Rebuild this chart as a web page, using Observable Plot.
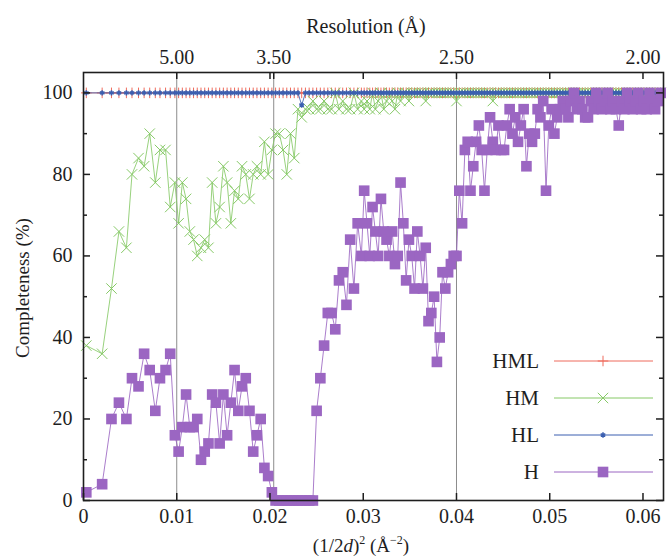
<!DOCTYPE html>
<html><head><meta charset="utf-8">
<script src="https://cdn.jsdelivr.net/npm/d3@7"></script>
<script src="https://cdn.jsdelivr.net/npm/@observablehq/plot@0.6"></script>
<style>body{margin:0;background:#fff}#chart{width:667px;height:557px}</style>
</head><body><div id="chart"></div>
<script>
// bin centres, (1/2d)^2 in Å^-2
const binX = [
0.0003,0.002,0.003,0.0038,0.0046,0.0052,0.0059,0.0065,0.0071,0.0077,0.0082,0.0088,0.0093,0.0098,
0.0102,0.0106,0.011,0.0114,0.0118,0.0122,0.0126,0.013,0.0134,0.0138,0.0142,0.0146,0.015,0.0154,0.0158,0.0162,0.0166,0.017,0.0174,0.0178,0.0182,0.0186,0.019,0.0194,0.0198,
0.0202,0.0206,0.021,0.0214,0.0218,0.0222,0.0226,0.023,0.0234,0.0238,0.0242,0.0246,0.025,0.0254,0.0258,0.0262,0.0266,0.027,0.0274,0.0278,0.0282,0.0286,0.029,0.0294,0.0298,
0.0301,0.0304,0.0307,0.031,0.0313,0.0316,0.0319,0.0322,0.0325,0.0328,
0.0331,0.0334,0.0337,0.034,0.0343,0.0346,0.0349,0.0352,0.0355,0.0358,
0.0361,0.0364,0.0367,0.037,0.0373,0.0376,0.0379,0.0382,0.0385,0.0388,
0.0391,0.0394,0.0397,0.04,0.0403,0.0406,0.0409,0.0412,0.0415,0.0418,
0.0421,0.0424,0.0427,0.043,0.0433,0.0436,0.0439,0.0442,0.0445,0.0448,
0.0451,0.0454,0.0457,0.046,0.0463,0.0466,0.0469,0.0472,0.0475,0.0478,
0.0481,0.0484,0.0487,0.049,0.0493,0.0496,0.0499,0.0502,0.0505,0.0508,
0.0511,0.0514,0.0517,0.052,0.0523,0.0526,0.0529,0.0532,0.0535,0.0538,
0.0541,0.0544,0.0547,0.055,0.0553,0.0556,0.0559,0.0562,0.0565,0.0568,
0.0571,0.0574,0.0577,0.058,0.0583,0.0586,0.0589,0.0592,0.0595,0.0598,
0.0601,0.0604,0.0607,0.061,0.0613,0.0616,0.0619];

const HML = [
100,100,100,100,100,100,100,100,100,100,100,100,100,100,
100,100,100,100,100,100,100,100,100,100,100,100,100,100,100,100,100,100,100,100,100,100,100,100,100,
100,100,100,100,100,100,100,100,100,100,100,100,100,100,100,100,100,100,100,100,100,100,100,100,100,
100,100,100,100,100,100,100,100,100,100,
100,100,100,100,100,100,100,100,100,100,
100,100,100,100,100,100,100,100,100,100,
100,100,100,100,100,100,100,100,100,100,
100,100,100,100,100,100,100,100,100,100,
100,100,100,100,100,100,100,100,100,100,
100,100,100,100,100,100,100,100,100,100,
100,100,100,100,100,100,100,100,100,100,
100,100,100,100,100,100,100,100,100,100,
100,100,100,100,100,100,100,100,100,100,
100,100,100,100,100,100,100];

const HM = [
38,36,52,66,62,80,84,82,90,78,86,86,72,78,
68,78,74,66,64,60,62,64,62,78,68,72,82,78,68,76,74,82,80,74,80,82,80,88,80,
86,90,90,86,80,90,84,96,94,96,96,98,96,96,98,96,96,100,96,98,96,96,100,96,98,
96,98,96,100,96,98,100,96,98,100,
98,96,100,98,100,100,98,100,100,100,
100,100,98,100,100,100,100,100,100,100,
100,100,100,98,100,100,100,100,100,100,
100,100,100,100,100,100,98,100,100,100,
100,100,100,100,100,100,100,100,100,100,
100,100,100,100,100,100,100,100,100,100,
100,100,100,100,100,100,100,100,100,100,
100,100,100,100,100,100,100,100,100,100,
100,100,100,100,100,100,100,100,100,100,
100,100,100,100,100,100,100];

const HL = [
100,100,100,100,100,100,100,100,100,100,100,100,100,100,
100,100,100,100,100,100,100,100,100,100,100,100,100,100,100,100,100,100,100,100,100,100,100,100,100,
100,100,100,100,100,100,100,100,97,100,100,100,100,100,100,100,100,100,100,100,100,100,100,100,100,
100,100,100,100,100,100,100,100,100,100,
100,100,100,100,100,100,100,100,100,100,
100,100,100,100,100,100,100,100,100,100,
100,100,100,100,100,100,100,100,100,100,
100,100,100,100,100,100,100,100,100,100,
100,100,100,100,100,100,100,100,100,100,
100,100,100,100,100,100,100,100,100,100,
100,100,100,100,100,100,100,100,100,100,
100,100,100,100,100,100,100,100,100,100,
100,100,100,100,100,100,100,100,100,100,
100,100,100,100,100,100,100];

const H = [
2,4,20,24,20,30,28,36,32,22,30,32,36,16,
12,18,26,18,18,20,10,12,14,26,24,14,26,16,24,32,22,28,30,22,12,16,20,8,6,
2,0,0,0,0,0,0,0,0,0,0,0,22,30,38,46,46,42,54,56,48,64,52,68,60,
76,68,60,72,66,60,74,66,64,60,
66,58,60,78,68,54,64,60,52,66,
60,52,62,44,46,50,34,40,56,52,
56,58,60,60,76,68,86,88,76,82,
88,92,86,76,86,94,88,86,92,86,
86,92,96,90,94,88,92,96,82,90,
88,90,96,94,98,76,92,96,90,94,
96,98,96,94,98,100,96,98,96,94,
94,98,96,100,98,96,98,100,96,98,
96,92,98,96,100,98,96,98,100,96,
98,96,100,98,96,98,100];

const seriesNames = ["HML", "HM", "HL", "H"];
const seriesValues = [HML, HM, HL, H];
const bottomTicks = [0, 0.01, 0.02, 0.03, 0.04, 0.05, 0.06];
const topTickPos = [0.01, 0.0204, 0.04, 0.06];
const topTickLabels = ["5.00", "3.50", "2.50", "2.00"];
const guideLines = [0.01, 0.0204, 0.04];
const yTicks = [0, 20, 40, 60, 80, 100];
const yMinorTicks = [10, 30, 50, 70, 90];

// styles
const styles = {
  HML: {color: "#ee6b5c", symbol: "plus", r: 3.5, fill: "none", sw: 1},
  HM:  {color: "#86c966", symbol: "times", r: 4.8, fill: "none", sw: 1},
  HL:  {color: "#3b5fb0", symbol: "asterisk", r: 2.5, fill: "none", sw: 1.5},
  H:   {color: "#9b66c2", symbol: "square", r: 6, fill: "#9b66c2", sw: 0}
};

const W = 667, HT = 557, mt = 72, mb = 57, ml = 83, mr = 4;
const fw = W - ml - mr, fh = HT - mt - mb;
const font = "'Liberation Serif', 'Times New Roman', serif";
const ink = "#1e1e1e";

const seriesMarks = [];
seriesNames.forEach((name, k) => {
  const rows = binX.map((x, i) => ({x, y: seriesValues[k][i]}));
  const s = styles[name];
  seriesMarks.push(Plot.line(rows, {x: "x", y: "y", stroke: s.color, strokeWidth: 1, strokeOpacity: 0.85}));
  if (s.fill === "none") {
    seriesMarks.push(Plot.dot(rows, {x: "x", y: "y", symbol: s.symbol, r: s.r, stroke: s.color, strokeWidth: s.sw, fill: "none"}));
  } else {
    seriesMarks.push(Plot.dot(rows, {x: "x", y: "y", symbol: s.symbol, r: s.r, fill: s.fill, stroke: "none"}));
  }
});

const topLabelMap = new Map(topTickPos.map((p, i) => [p, topTickLabels[i]]));
const topAllTicks = [...bottomTicks.slice(1), 0.0204];

const chart = Plot.plot({
  width: W, height: HT,
  marginTop: mt, marginBottom: mb, marginLeft: ml, marginRight: mr,
  style: {fontFamily: font, fontSize: "20px", background: "#fff", color: ink},
  x: {domain: [0, 0.0622]},
  y: {domain: [0, 105]},
  marks: [
    Plot.ruleX(guideLines, {x: d => d, stroke: "#8c8c8c", strokeWidth: 1}),
    ...seriesMarks,
    Plot.tickX(bottomTicks, {x: d => d, insetTop: fh - 7, stroke: ink, strokeWidth: 1.5}),
    Plot.tickX(topAllTicks, {x: d => d, insetBottom: fh - 7, stroke: ink, strokeWidth: 1.5}),
    Plot.tickY(yTicks, {y: d => d, insetRight: fw - 7, stroke: ink, strokeWidth: 1.5}),
    Plot.tickY(yTicks, {y: d => d, insetLeft: fw - 7, stroke: ink, strokeWidth: 1.5}),
    Plot.tickY(yMinorTicks, {y: d => d, insetRight: fw - 4, stroke: ink, strokeWidth: 1.5}),
    Plot.tickY(yMinorTicks, {y: d => d, insetLeft: fw - 4, stroke: ink, strokeWidth: 1.5}),
    Plot.frame({stroke: ink, strokeWidth: 1.6}),
    Plot.axisX(bottomTicks, {anchor: "bottom", tickSize: 0, tickPadding: 8, label: null,
      tickFormat: d => d === 0 ? "0" : d.toFixed(2)}),
    Plot.axisX(topTickPos, {anchor: "top", tickSize: 0, tickPadding: 9, label: null,
      tickFormat: d => topLabelMap.get(d)}),
    Plot.axisY(yTicks, {anchor: "left", tickSize: 0, tickPadding: 11, label: null})
  ]
});

document.getElementById("chart").appendChild(chart);

const svg = d3.select(chart);
// axis titles
svg.append("text").attr("x", 366).attr("y", 33).attr("text-anchor", "middle")
  .attr("font-family", font).attr("font-size", 20).attr("fill", ink).text("Resolution (Å)");
svg.append("text").attr("transform", "translate(29,288) rotate(-90)").attr("text-anchor", "middle")
  .attr("font-family", font).attr("font-size", 19).attr("fill", ink).text("Completeness (%)");
const bt = svg.append("text").attr("x", 361).attr("y", 552).attr("text-anchor", "middle")
  .attr("font-family", font).attr("font-size", 19).attr("fill", ink);
bt.append("tspan").text("(1/2");
bt.append("tspan").attr("font-style", "italic").text("d");
bt.append("tspan").text(")");
bt.append("tspan").attr("font-size", 12).attr("dy", -8).text("2");
bt.append("tspan").attr("dy", 8).text(" (Å");
bt.append("tspan").attr("font-size", 12).attr("dy", -8).text("−2");
bt.append("tspan").attr("dy", 8).text(")");

// legend
const symMap = {plus: d3.symbolPlus, times: d3.symbolTimes, asterisk: d3.symbolAsterisk, square: d3.symbolSquare};
const lg = svg.append("g");
seriesNames.forEach((name, i) => {
  const s = styles[name];
  const cy = 361 + i * 37;
  lg.append("text").attr("x", 539).attr("y", cy).attr("dy", "0.35em").attr("text-anchor", "end")
    .attr("font-family", font).attr("font-size", 21).attr("fill", ink).text(name);
  lg.append("line").attr("x1", 554).attr("x2", 653).attr("y1", cy).attr("y2", cy)
    .attr("stroke", s.color).attr("stroke-width", 1);
  lg.append("path").attr("transform", `translate(603,${cy})`)
    .attr("d", d3.symbol(symMap[s.symbol], Math.PI * s.r * s.r)())
    .attr("fill", s.fill === "none" ? "none" : s.fill)
    .attr("stroke", s.fill === "none" ? s.color : "none")
    .attr("stroke-width", s.sw);
});
</script>
</body></html>
